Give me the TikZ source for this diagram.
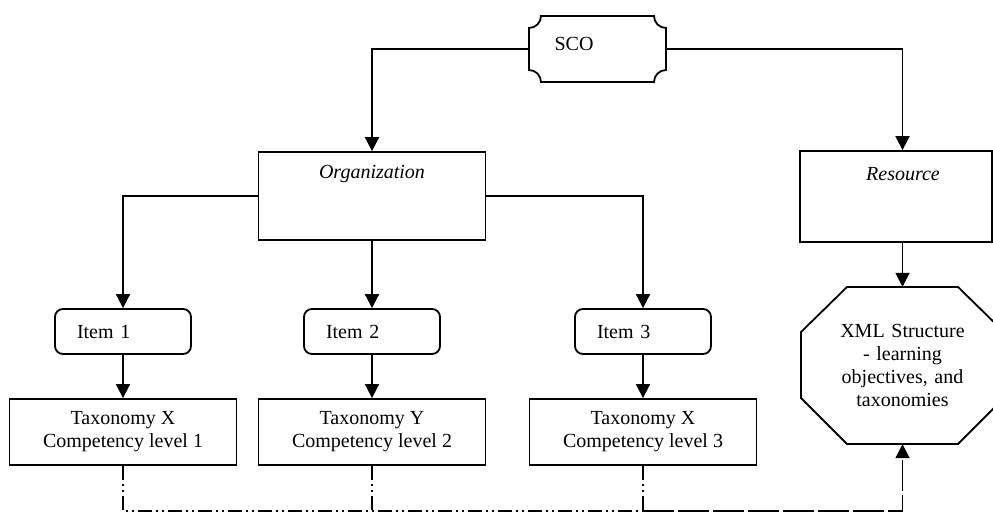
\documentclass[tikz,border=0pt]{standalone}
\usepackage{fontspec}
\setmainfont{Liberation Serif}
\usetikzlibrary{arrows.meta}
\begin{document}
\begin{tikzpicture}[x=1pt,y=-1pt,
  every node/.style={font=\fontsize{20}{23}\selectfont},
  ln/.style={line width=1.8pt},
  arr/.style={ln,-{Triangle[length=14pt,width=14pt]}},
  box/.style={draw,ln,inner sep=0pt},
  itembox/.style={draw,ln,rounded corners=8pt,minimum width=136pt,minimum height=45pt,inner xsep=22pt,inner ysep=0pt,text width=92pt,align=left},
  taxbox/.style={draw,ln,minimum width=227pt,minimum height=66pt,inner sep=0pt,align=center},
  ddd/.style={ln,dash pattern=on 14pt off 4pt on 2pt off 4pt on 2pt off 4pt},
  ldash/.style={ln,dash pattern=on 31pt off 4pt}]
\useasboundingbox (0,0) rectangle (993,514);
% SCO
\node[minimum width=137pt,minimum height=66pt,inner sep=0pt] (sco) at (597.5,49) {};
\draw[ln] (541,16) -- (654,16) .. controls (654,22.6) and (659.4,28) .. (666,28)
  -- (666,70) .. controls (659.4,70) and (654,75.4) .. (654,82)
  -- (541,82) .. controls (541,75.4) and (535.6,70) .. (529,70)
  -- (529,28) .. controls (535.6,28) and (541,22.6) .. (541,16) -- cycle;
\node (scot) at (574,44) {SCO};
% Organization and Resource
\node[box,minimum width=227pt,minimum height=88pt] (org) at (372,196) {};
\node (orgt) at (372,174) {\itshape Organization};
\node[box,minimum width=192pt,minimum height=91pt] (res) at (896,196.5) {};
\node (rest) at (903,174) {\itshape Resource};
% Items
\node[itembox] (i1) at (123,331.5) {Item 1};
\node[itembox] (i2) at (372,331.5) {Item 2};
\node[itembox] (i3) at (643,331.5) {Item 3};
% Taxonomies
\node[taxbox] (t1) at (123,432) {Taxonomy X\\Competency level 1};
\node[taxbox] (t2) at (372,432) {Taxonomy Y\\Competency level 2};
\node[taxbox] (t3) at (643,432) {Taxonomy X\\Competency level 3};
% XML octagon
\node[minimum width=203pt,minimum height=157pt,inner sep=0pt,text width=170pt,align=center] (xml) at (902.5,365.5)
  {XML Structure\\- learning\\objectives, and\\taxonomies};
\draw[ln] (847,287) -- (958,287) -- (1004,332) -- (1004,398) -- (958,444)
  -- (847,444) -- (801,398) -- (801,332) -- cycle;
% connectors
\draw[arr] (sco.west) -| (org.north);
\draw[arr] (sco.east) -| (res.north -| xml.north);
\draw[arr] (org.west) -| (i1.north);
\draw[arr] (org.south) -- (i2.north);
\draw[arr] (org.east) -| (i3.north);
\draw[arr] (i1.south) -- (t1.north);
\draw[arr] (i2.south) -- (t2.north);
\draw[arr] (i3.south) -- (t3.north);
\draw[arr] (res.south -| xml.north) -- (xml.north);
% dash-dot bus
\coordinate (bl) at (123,511);
\coordinate (bm) at (372,511);
\coordinate (br) at (643,511);
\coordinate (bx) at (902.5,511);
\draw[ddd] (t1.south) -- (bl) -- (br);
\draw[ddd] (t2.south) -- (bm);
\draw[ddd] (t3.south) -- (br);
\draw[ldash,-{Triangle[length=14pt,width=14pt]}] (br) -- (bx) -- (xml.south);
\end{tikzpicture}
\end{document}
